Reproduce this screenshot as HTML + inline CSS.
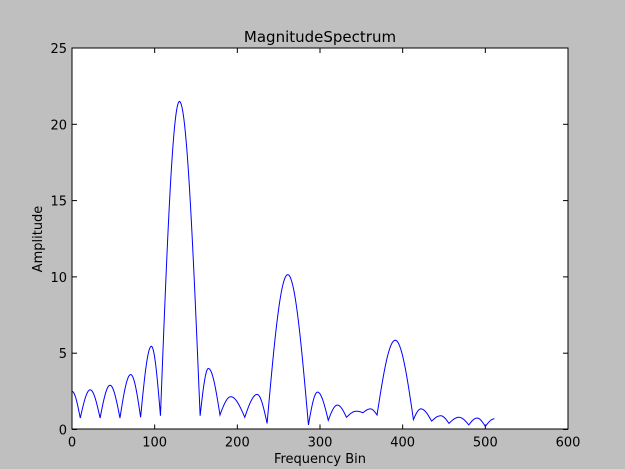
<!DOCTYPE html>
<html><head><meta charset="utf-8"><style>
body{margin:0;background:#bfbfbf;}
svg{display:block;font-family:"DejaVu Sans","Liberation Sans",sans-serif;}
</style></head><body>
<svg id="chart" width="625" height="469">
<rect x="0" y="0" width="625" height="469" fill="#bfbfbf"/>
<rect x="72" y="48" width="496" height="381" fill="#fff"/>
<g id="ticks"></g>
<path id="line" fill="none" stroke="#0000ff" stroke-width="1"/>
<rect x="72" y="48" width="496" height="381" fill="none" stroke="#000" stroke-width="1"/>
<text x="320" y="42" text-anchor="middle" font-size="15">MagnitudeSpectrum</text>
<text x="320" y="463" text-anchor="middle" font-size="13">Frequency Bin</text>
<text transform="translate(42,239) rotate(-90)" text-anchor="middle" font-size="13">Amplitude</text>
</svg>
<script>
const xTicks=[0,100,200,300,400,500,600];
const yTicks=[0,5,10,15,20,25];
const binX=[0,10,22,34,46,58,71,83,96,107,130,155,165,179,192,209,224,236,261,286,297,310,321,332,344,352,361,369,391,413,422,435,446,456,468,480,490,500,511];
const ampY=[2.5,0.75,2.6,0.75,2.9,0.75,3.6,0.8,5.45,0.9,21.5,0.9,4.0,0.95,2.15,0.8,2.3,0.4,10.15,0.3,2.45,0.6,1.6,0.8,1.2,1.1,1.35,0.95,5.85,0.65,1.35,0.55,0.9,0.4,0.8,0.3,0.75,0.2,0.7];
const L=72,R=568,T=48,B=429.5;
const sx=v=>L+(v-0)/600*(R-L);
const sy=v=>B-(v/25)*(B-T);
const NS="http://www.w3.org/2000/svg";
const svg=document.getElementById('chart');
const tg=document.getElementById('ticks');
function mk(tag,attrs){const e=document.createElementNS(NS,tag);for(const k in attrs)e.setAttribute(k,attrs[k]);return e;}
xTicks.forEach(v=>{
  const x=sx(v);
  const t1=mk('line',{x1:x,y1:B,x2:x,y2:B-5,stroke:'#000'});
  
  
  tg.appendChild(t1);
  const t2=mk('line',{x1:x,y1:T,x2:x,y2:T+5,stroke:'#000'});
  
  
  tg.appendChild(t2);
  const lb=mk('text',{x:x,y:B+17,'text-anchor':'middle','font-size':13});
  
  
  lb.textContent=v;svg.appendChild(lb);
});
yTicks.forEach(v=>{
  const y=sy(v);
  const t1=mk('line',{x1:L,y1:y,x2:L+5,y2:y,stroke:'#000'});
  
  
  tg.appendChild(t1);
  const t2=mk('line',{x1:R,y1:y,x2:R-5,y2:y,stroke:'#000'});
  
  
  tg.appendChild(t2);
  const lb=mk('text',{x:L-5,y:y+5,'text-anchor':'end','font-size':13});
  
  
  lb.textContent=v;svg.appendChild(lb);
});
function isTrough(i){
  const p=i>0?ampY[i-1]:Infinity,n=i<ampY.length-1?ampY[i+1]:Infinity;
  return ampY[i]<p&&ampY[i]<n;
}
let d='M'+sx(binX[0])+','+sy(ampY[0]);
for(let i=0;i<binX.length-1;i++){
  const xa=binX[i],xb=binX[i+1],ya=ampY[i],yb=ampY[i+1];
  const aT=isTrough(i);
  const N=24;
  for(let k=1;k<=N;k++){
    const t=k/N;let y;
    if(aT) y=ya+(yb-ya)*Math.sin(Math.PI/2*t);
    else y=yb+(ya-yb)*Math.sin(Math.PI/2*(1-t));
    d+=' L'+sx(xa+(xb-xa)*t).toFixed(2)+','+sy(y).toFixed(2);
  }
}
document.getElementById('line').setAttribute('d',d);
</script>
</body></html>
